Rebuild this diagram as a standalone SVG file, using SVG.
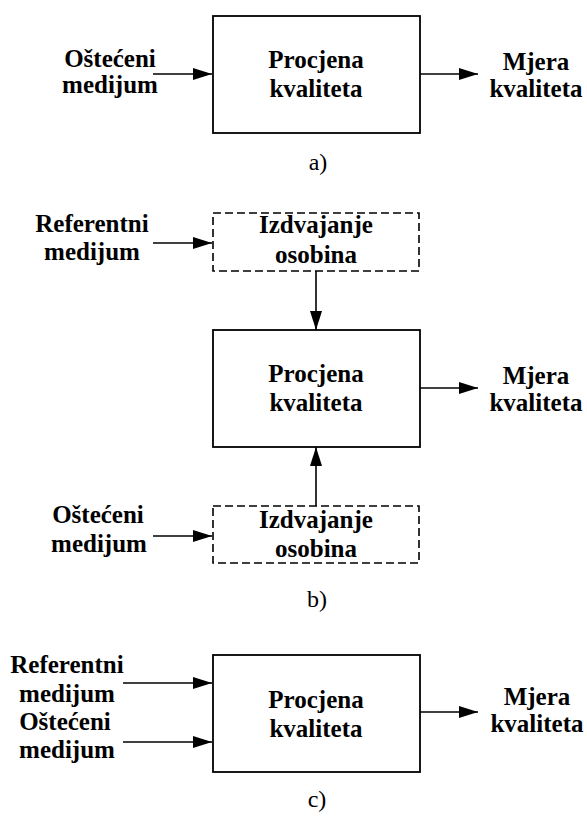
<svg xmlns="http://www.w3.org/2000/svg" width="587" height="818" viewBox="0 0 587 818">
<style>
.box{fill:#fff;stroke:#000;stroke-width:1.8}
.dash{fill:#fff;stroke:#000;stroke-width:1.6;stroke-dasharray:8 4}
.t{font-family:"Liberation Serif","Times New Roman",serif;font-weight:bold;font-size:25px;text-anchor:middle;fill:#000}
.cap{font-family:"Liberation Serif","Times New Roman",serif;font-size:24px;text-anchor:middle;fill:#000}
.ln{stroke:#000;stroke-width:1.6;fill:none;marker-end:url(#ah)}
</style>
<defs>
<marker id="ah" viewBox="0 0 19 12" refX="19" refY="6" markerWidth="19" markerHeight="12" markerUnits="userSpaceOnUse" orient="auto">
<path d="M0,0 L19,6 L0,12 Z" fill="#000"/>
</marker>
</defs>
<g id="connectors">
<line class="ln" x1="153" y1="74" x2="212" y2="74"/>
<line class="ln" x1="420" y1="74" x2="478" y2="74"/>
<line class="ln" x1="153" y1="243" x2="212" y2="243"/>
<line class="ln" x1="316" y1="271" x2="316" y2="330"/>
<line class="ln" x1="316" y1="506" x2="316" y2="447"/>
<line class="ln" x1="153" y1="536" x2="212" y2="536"/>
<line class="ln" x1="420" y1="388" x2="478" y2="388"/>
<line class="ln" x1="123" y1="683" x2="212" y2="683"/>
<line class="ln" x1="123" y1="742" x2="212" y2="742"/>
<line class="ln" x1="420" y1="712" x2="478" y2="712"/>
</g>
<g id="a-in"><text class="t" x="110" y="67">Oštećeni</text><text class="t" x="110" y="93">medijum</text></g>
<g id="a-box"><rect class="box" x="213" y="16" width="207" height="117"/><text class="t" x="316" y="68">Procjena</text><text class="t" x="316" y="97">kvaliteta</text></g>
<g id="a-out"><text class="t" x="536" y="70">Mjera</text><text class="t" x="536" y="97">kvaliteta</text></g>
<g id="a-cap"><text class="cap" x="318" y="170">a)</text></g>

<g id="b-ref"><text class="t" x="92" y="232">Referentni</text><text class="t" x="92" y="260">medijum</text></g>
<g id="b-feat1"><rect class="dash" x="213" y="213" width="206" height="58"/><text class="t" x="316" y="233">Izdvajanje</text><text class="t" x="316" y="263">osobina</text></g>
<g id="b-box"><rect class="box" x="213" y="330" width="207" height="117"/><text class="t" x="316" y="382">Procjena</text><text class="t" x="316" y="411">kvaliteta</text></g>
<g id="b-out"><text class="t" x="536" y="384">Mjera</text><text class="t" x="536" y="411">kvaliteta</text></g>
<g id="b-feat2"><rect class="dash" x="213" y="506" width="206" height="57"/><text class="t" x="316" y="528">Izdvajanje</text><text class="t" x="316" y="557">osobina</text></g>
<g id="b-dist"><text class="t" x="98" y="523">Oštećeni</text><text class="t" x="99" y="552">medijum</text></g>
<g id="b-cap"><text class="cap" x="317" y="607">b)</text></g>

<g id="c-ref"><text class="t" x="67" y="673">Referentni</text><text class="t" x="67" y="702">medijum</text></g>
<g id="c-dist"><text class="t" x="65" y="730">Oštećeni</text><text class="t" x="67" y="758">medijum</text></g>
<g id="c-box"><rect class="box" x="213" y="655" width="207" height="117"/><text class="t" x="316" y="708">Procjena</text><text class="t" x="316" y="737">kvaliteta</text></g>
<g id="c-out"><text class="t" x="537" y="705">Mjera</text><text class="t" x="537" y="732">kvaliteta</text></g>
<g id="c-cap"><text class="cap" x="317" y="807">c)</text></g>
</svg>
